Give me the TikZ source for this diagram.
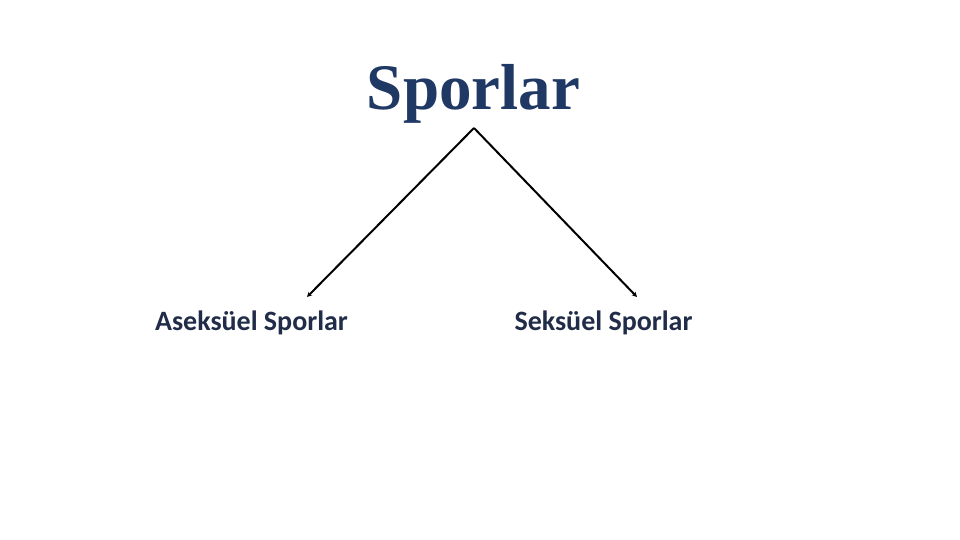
\documentclass[tikz,border=0pt]{standalone}
\usepackage{fontspec}
\setmainfont{Liberation Serif}
\newfontfamily\calibrifont{Carlito}
\usepackage{xcolor}
\usetikzlibrary{arrows.meta,positioning}

\definecolor{titleblue}{RGB}{31,56,100}
\definecolor{labelnavy}{RGB}{33,44,72}

\tikzset{
  titletext/.style={font=\fontsize{65}{70}\selectfont\bfseries, text=titleblue, inner sep=0pt},
  sporetext/.style={font=\calibrifont\fontsize{28}{30}\selectfont\bfseries, text=labelnavy, inner sep=0pt},
  branch/.style={line width=2pt, -{Stealth[length=5pt,width=5pt]}}
}

\begin{document}
\begin{tikzpicture}[x=1pt,y=-1pt]
  \useasboundingbox (0,0) rectangle (960,540);

  % Title
  \node[titletext, anchor=base] (title) at (473.5,110) {Sporlar};

  % Spore types
  \node[sporetext, anchor=base] (asexual) at (251.5,330) {Aseksüel Sporlar};
  \node[sporetext, anchor=base] (sexual) at (603.5,330) {Seksüel Sporlar};

  % Branch points
  \coordinate (apex) at (474,128);
  \coordinate (leftend) at (307,297);
  \coordinate (rightend) at (637,297);

  % Branches
  \draw[branch] (apex) -- (leftend);
  \draw[branch] (apex) -- (rightend);
\end{tikzpicture}
\end{document}
